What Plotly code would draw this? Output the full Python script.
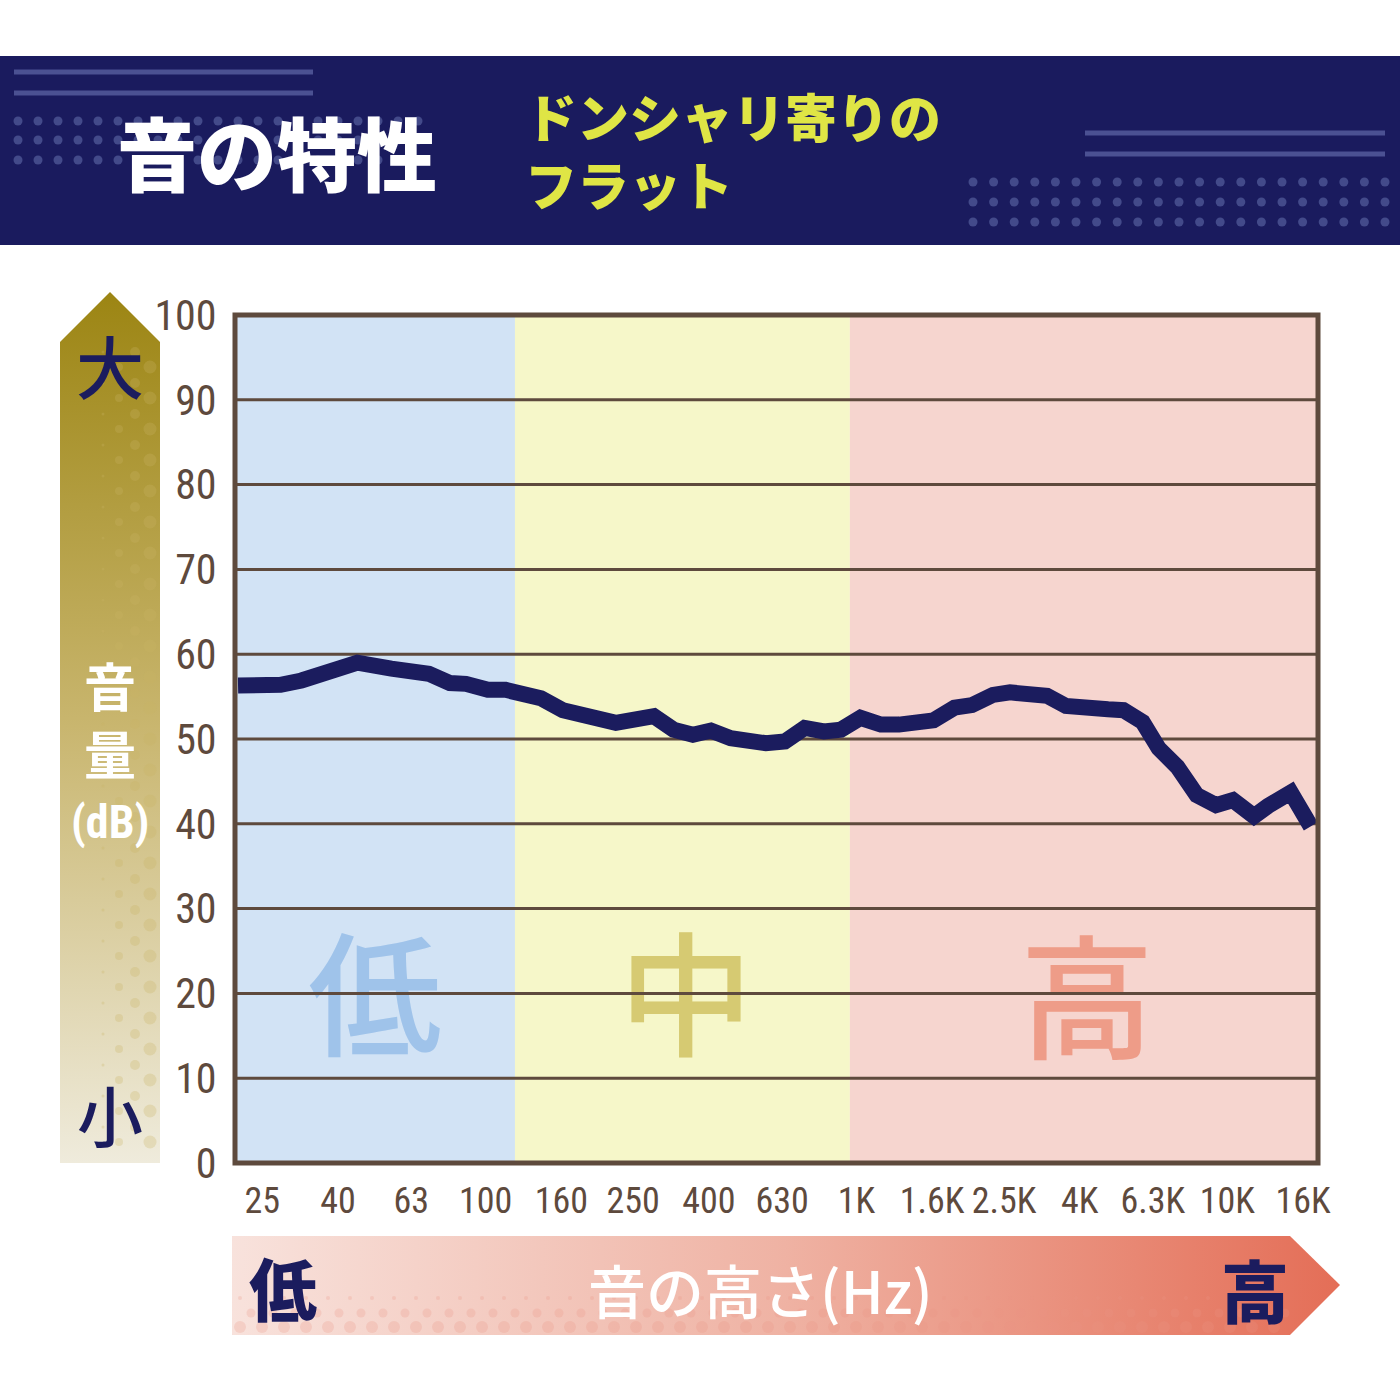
import numpy as np
import plotly.graph_objects as go

# ---------------- data ----------------
freq_hz = [21.5, 25.1, 28.0, 31.9, 36.5, 45.1, 55.7, 70.3, 80.1, 88.5,
           101.4, 113.2, 141, 161.6, 224.5, 284.3, 321.1, 362.2, 405.1, 457.9,
           570.1, 641, 725, 817, 908, 1025, 1164, 1302, 1614, 1838,
           2048, 2334, 2594, 2954, 3264, 3672, 4082, 4768, 5248, 5912,
           6531, 7337, 8268, 9322, 10358, 11800, 12875, 14834, 16788]
level_db = [56.3, 56.3, 56.4, 56.9, 57.8, 59.0, 58.3, 57.7, 56.6, 56.5,
            55.8, 55.8, 54.8, 53.4, 51.9, 52.7, 51.1, 50.5, 51.0, 50.1,
            49.5, 49.7, 51.3, 50.9, 51.1, 52.5, 51.7, 51.7, 52.2, 53.7,
            54.0, 55.2, 55.5, 55.1, 55.1, 53.9, 53.9, 53.5, 53.4, 52.0,
            48.9, 46.7, 43.4, 42.2, 42.8, 40.9, 42.1, 43.7, 39.7]

tick_hz = [25, 40, 63, 100, 160, 250, 400, 630, 1000, 1600, 2500, 4000, 6300, 10000, 16000]
tick_labels = ["25", "40", "63", "100", "160", "250", "400", "630",
               "1K", "1.6K", "2.5K", "4K", "6.3K", "10K", "16K"]
y_ticks = list(range(0, 101, 10))

x_range_hz = [21.1, 17560]
band_names = ["低", "中", "高"]
band_edges_hz = [10, 120, 960, 30000]
band_colors = ["#d2e3f5", "#f6f7c9", "#f6d5cf"]
band_label_hz = [50.3, 347, 4183]
band_label_db = [17.7, 17.7, 17.4]
band_label_colors = ["#9fc3ea", "#d6ca72", "#ee9c88"]

title_text = "音の特性"
subtitle_lines = ["ドンシャリ寄りの", "フラット"]
y_title_lines = ["音", "量", "(dB)"]
y_low_high = ["小", "大"]
x_title = "音の高さ(Hz)"
x_low_high = ["低", "高"]

# ---------------- style ----------------
W = H = 1400
PLOT_L, PLOT_R, PLOT_T, PLOT_B = 235, 1318, 315, 1163
NAVY = "#1b1c5e"
HEADER = "#1a1b5e"
BROWN = "#5e4a3d"
YELLOW = "#dfe545"
DECO = "#4b5192"
NUM_FONT = "Roboto Condensed, Roboto, sans-serif"
JP_FONT = "Noto Sans CJK JP, sans-serif"

fig = go.Figure()

# ---- main plot (xy) ----
for i in range(3):
    x0, x1 = band_edges_hz[i], band_edges_hz[i + 1]
    fig.add_trace(go.Scatter(x=[x0, x1, x1, x0, x0], y=[-5, -5, 105, 105, -5],
                             mode="lines", line=dict(width=0), fill="toself",
                             fillcolor=band_colors[i], hoverinfo="skip"))

fig.add_trace(go.Scatter(x=band_label_hz, y=band_label_db, mode="text", text=band_names,
                         textposition="middle center",
                         textfont=dict(size=134, color=band_label_colors, family=JP_FONT, weight=500),
                         hoverinfo="skip"))

gx, gy = [], []
for v in y_ticks[1:-1]:
    gx += [band_edges_hz[0], band_edges_hz[-1], None]
    gy += [v, v, None]
fig.add_trace(go.Scatter(x=gx, y=gy, mode="lines", line=dict(color=BROWN, width=3),
                         hoverinfo="skip"))

fig.add_trace(go.Scatter(x=freq_hz, y=level_db, mode="lines",
                         line=dict(color=NAVY, width=16), hoverinfo="skip"))

# ---- decoration layer in pixel coordinates (x2y2) ----
def deco(trace):
    trace.update(xaxis="x2", yaxis="y2", hoverinfo="skip", showlegend=False)
    fig.add_trace(trace)

for (xa, xb, yy) in [(14, 313, 72), (14, 313, 93), (1085, 1385, 133), (1085, 1385, 154)]:
    deco(go.Scatter(x=[xa, xb], y=[yy, yy], mode="lines", line=dict(color=DECO, width=5)))

hx, hy = [], []
for yy in [121, 140, 160]:
    for k in range(21):
        hx.append(18 + 20 * k); hy.append(yy)
for yy in [182, 202, 222]:
    for k in range(21):
        hx.append(973 + 20.6 * k); hy.append(yy)
deco(go.Scatter(x=hx, y=hy, mode="markers", marker=dict(color="#434a8a", size=9, line=dict(width=0))))

# vertical arrow
deco(go.Scatter(x=[60, 60, 110, 160, 160, 60], y=[1163, 342, 292, 342, 1163, 1163],
                mode="lines", line=dict(width=0), fill="toself",
                fillgradient=dict(type="vertical", start=292, stop=1163,
                                  colorscale=[[0, "#9c8513"], [0.5, "#c9b66f"], [1, "#efebdc"]])))
vx, vy, vs = [], [], []
for (cx, size, off) in [(103, 3, 0), (119, 8, 15), (135, 10, 0), (150, 13, 15)]:
    for yy in np.arange(352 + off, 1158, 31):
        vx.append(cx); vy.append(yy); vs.append(size)
deco(go.Scatter(x=vx, y=vy, mode="markers",
                marker=dict(color="rgba(200,178,100,0.4)", size=vs, line=dict(width=0))))

# horizontal arrow
deco(go.Scatter(x=[232, 1290, 1340, 1290, 232, 232], y=[1236, 1236, 1285, 1335, 1335, 1236],
                mode="lines", line=dict(width=0), fill="toself",
                fillgradient=dict(type="horizontal", start=232, stop=1340,
                                  colorscale=[[0, "#f8e2dc"], [0.5, "#efb2a3"], [1, "#e46e57"]])))
bx, by, bs = [], [], []
for (yy, size, off) in [(1298, 4, 0), (1313, 9, 11), (1327, 12, 0)]:
    for xx in np.arange(240 + off, 1288, 22):
        bx.append(xx); by.append(yy); bs.append(size)
deco(go.Scatter(x=bx, y=by, mode="markers",
                marker=dict(color="rgba(235,150,130,0.35)", size=bs, line=dict(width=0))))

# ---- shapes ----
shapes = [
    dict(type="rect", xref="x2", yref="y2", x0=0, x1=W, y0=56, y1=245,
         fillcolor=HEADER, line=dict(width=0), layer="below"),
    dict(type="rect", xref="x domain", yref="y domain", x0=0, x1=1, y0=0, y1=1,
         line=dict(color=BROWN, width=5), fillcolor="rgba(0,0,0,0)", layer="above"),
]

# ---- annotations ----
def ann(text, x, y, size, color, weight=700, family=JP_FONT, xanchor="center", align="center"):
    return dict(text=text, x=x, y=y, xref="x2", yref="y2", showarrow=False,
                xanchor=xanchor, yanchor="middle", align=align, borderpad=0,
                font=dict(size=size, color=color, family=family, weight=weight))

annotations = [
    ann(title_text, 277, 150, 80, "white", 900),
    ann("<br>".join(subtitle_lines), 524, 149, 52, YELLOW, 900, xanchor="left", align="left"),
    ann(y_low_high[1], 110, 364, 68, NAVY, 500),
    ann(y_title_lines[0], 110, 684, 52, "white", 700),
    ann(y_title_lines[1], 110, 752, 52, "white", 700),
    ann(y_title_lines[2], 110, 822, 46, "white", 700, family=NUM_FONT),
    ann(y_low_high[0], 110, 1113, 66, NAVY, 500),
    ann(x_low_high[0], 283, 1286, 68, NAVY, 900),
    ann(x_title, 760, 1289, 58, "white", 500),
    ann(x_low_high[1], 1255, 1288, 68, NAVY, 900),
]

fig.update_layout(
    width=W, height=H, margin=dict(l=0, r=0, t=0, b=0, autoexpand=False),
    paper_bgcolor="white", plot_bgcolor="rgba(0,0,0,0)", showlegend=False,
    xaxis=dict(type="log", domain=[PLOT_L / W, PLOT_R / W], automargin=False,
               range=[np.log10(x_range_hz[0]), np.log10(x_range_hz[1])],
               tickvals=tick_hz, ticktext=tick_labels, ticks="outside", ticklen=6,
               tickangle=0, tickcolor="rgba(0,0,0,0)", showgrid=False, zeroline=False,
               showline=False, tickfont=dict(family=NUM_FONT, size=36, color=BROWN),
               fixedrange=True),
    yaxis=dict(domain=[1 - PLOT_B / H, 1 - PLOT_T / H], range=[0, 100], automargin=False,
               tickvals=y_ticks, ticks="outside", ticklen=9, tickcolor="rgba(0,0,0,0)",
               showgrid=False, zeroline=False, showline=False,
               tickfont=dict(family=NUM_FONT, size=42, color=BROWN), fixedrange=True),
    xaxis2=dict(domain=[0, 1], range=[0, W], visible=False, anchor="y2",
                automargin=False, fixedrange=True),
    yaxis2=dict(domain=[0, 1], range=[H, 0], visible=False, anchor="x2",
                automargin=False, fixedrange=True),
    shapes=shapes, annotations=annotations,
)
for tr in fig.data:
    tr.showlegend = False

fig.write_html("out.html", config={"displayModeBar": False},
               post_script="document.body.style.margin='0px';")
